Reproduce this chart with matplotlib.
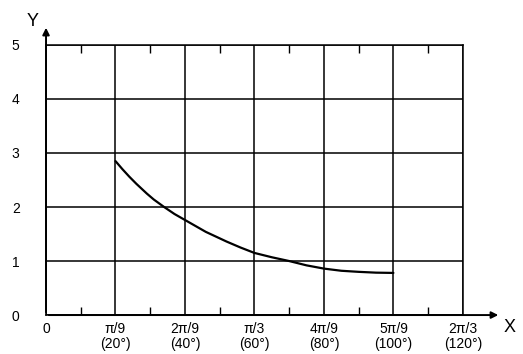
import matplotlib.pyplot as plt

# curve (x in degrees)
angle_deg = [20, 22, 24, 26, 29, 31, 34, 37, 40, 43, 46, 49, 52, 56, 60,
             65, 70, 75, 80, 85, 90, 95, 100]
y_vals = [2.85, 2.70, 2.56, 2.43, 2.25, 2.14, 2.0, 1.87, 1.76, 1.65, 1.54,
          1.45, 1.36, 1.25, 1.15, 1.07, 1.0, 0.92, 0.86, 0.82, 0.80, 0.785,
          0.78]

x_major = [0, 20, 40, 60, 80, 100, 120]
x_labels = ['0', 'π/9\n(20°)', '2π/9\n(40°)', 'π/3\n(60°)', '4π/9\n(80°)',
            '5π/9\n(100°)', '2π/3\n(120°)']
x_minor = [10, 30, 50, 70, 90, 110]
y_major = [0, 1, 2, 3, 4, 5]

plt.rcParams['font.family'] = ['Liberation Sans', 'DejaVu Sans']

fig = plt.figure(figsize=(5.23, 3.54), dpi=100)
ax = fig.add_axes([0.088, 0.110, 0.797, 0.763])

ax.plot(angle_deg, y_vals, color='black', lw=1.6,
        solid_capstyle='round', solid_joinstyle='round')

ax.set_xlim(0, 120)
ax.set_ylim(0, 5)
ax.set_xticks(x_major)
ax.set_xticklabels(x_labels, fontsize=10, linespacing=1.1)
ax.set_yticks(y_major)
ax.set_yticklabels([str(v) for v in y_major], fontsize=10)
ax.set_xticks(x_minor, minor=True)
ax.grid(True, which='major', color='black', lw=1.1)
ax.set_axisbelow(False)

ax.tick_params(which='major', length=0)
ax.tick_params(axis='x', which='major', pad=5)
ax.tick_params(axis='y', which='major', pad=19)
ax.tick_params(axis='x', which='minor', direction='in', length=6, width=1,
               top=True, bottom=True, labelbottom=False)
for s in ax.spines.values():
    s.set_linewidth(1.1)

# axis arrows
ax.annotate('', xy=(131, 0), xytext=(0, 0), xycoords='data',
            arrowprops=dict(arrowstyle='-|>', color='black', lw=1.4,
                            mutation_scale=10), annotation_clip=False)
ax.annotate('', xy=(0, 5.37), xytext=(0, 0), xycoords='data',
            arrowprops=dict(arrowstyle='-|>', color='black', lw=1.4,
                            mutation_scale=10), annotation_clip=False)
fig.text(33 / 523, 1 - 21 / 354, 'Y', fontsize=13, ha='center', va='center')
fig.text(510 / 523, 1 - 327 / 354, 'X', fontsize=13, ha='center', va='center')

plt.savefig('out.png', dpi=100)
